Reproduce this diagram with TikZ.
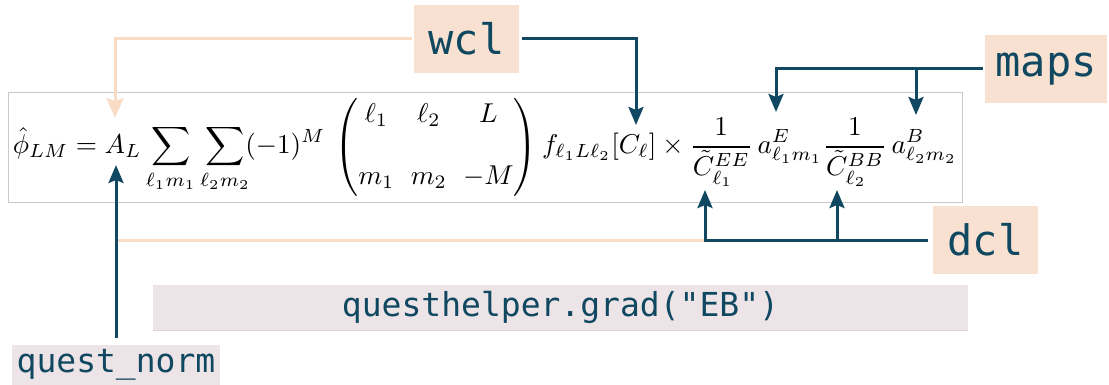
\documentclass[tikz,border=0pt]{standalone}
\usepackage{amsmath}
\usepackage{graphicx}
\usepackage{fontspec}
\setmonofont{DejaVu Sans Mono}
\usetikzlibrary{arrows.meta}
\definecolor{dteal}{HTML}{0F4860}
\definecolor{peach}{HTML}{F8E1D0}
\definecolor{lorange}{HTML}{F9DCC6}
\definecolor{codebg}{HTML}{EDE4E7}
\definecolor{eqgray}{HTML}{C8C8C8}
\begin{document}
\begin{tikzpicture}[x=1pt,y=-1pt,
  dk/.style={draw=dteal, line width=3pt, -{Stealth[length=18pt,width=15pt,inset=3pt]}},
  lt/.style={draw=lorange, line width=3pt},
  ltarr/.style={draw=lorange, line width=3pt, -{Stealth[length=20pt,width=17pt,inset=3pt]}},
  tagbox/.style={fill=peach, text=dteal, font=\ttfamily\fontsize{42}{42}\selectfont, minimum height=68pt, inner sep=0pt},
  codebox/.style={fill=codebg, text=dteal, font=\ttfamily\fontsize{33}{33}\selectfont, inner sep=0pt}]
\useasboundingbox (0,0) rectangle (1109,385);
% equation frame
\node[draw=eqgray, line width=0.8pt, minimum width=954pt, minimum height=110pt, anchor=north west, inner sep=0pt] (eq) at (8,92) {};
\node[inner sep=0pt] (formula) at (485,147) {\resizebox{944pt}{!}{\setlength{\arraycolsep}{3pt}$\displaystyle
  \hat{\phi}_{LM} = A_L \sum_{\ell_1 m_1}\sum_{\ell_2 m_2}\!(-1)^M\,
  \begin{pmatrix}\ell_1 & \ell_2 & L\\[1.1em] m_1 & m_2 & -M\end{pmatrix}
  f_{\ell_1 L \ell_2}[C_\ell]\times\frac{1}{\tilde C^{EE}_{\ell_1}}\,a^{E}_{\ell_1 m_1}\frac{1}{\tilde C^{BB}_{\ell_2}}\,a^{B}_{\ell_2 m_2}$}};
% tags
\node[tagbox, minimum width=105pt] (wcl) at (466.5,39) {wcl};
\node[tagbox, minimum width=122pt] (maps) at (1046,69) {maps};
\node[tagbox, minimum width=105pt] (dcl) at (985.5,240) {dcl};
\node[codebox, minimum width=208pt, minimum height=40pt] (qn) at (116,365) {quest\_norm};
\node[codebox, minimum width=815pt, minimum height=45pt] (qh) at (560.5,307.5) {questhelper.grad("EB")};
\draw[eqgray!70, line width=0.6pt] (qh.south west) -- (qh.south east);
% targets
\coordinate (tALtop) at (115,118);
\coordinate (tALbot) at (116,165);
\coordinate (tCl) at (636,125);
\coordinate (taE) at (776,112);
\coordinate (taB) at (916,115);
\coordinate (tCE) at (705,190);
\coordinate (tCB) at (837,190);
% connectors
\draw[ltarr, shorten <=2pt] (wcl.west) -| (tALtop);
\draw[lt] (tCE |- dcl.west) -- (tALbot |- dcl.west);
\draw[dk, shorten <=3pt] (wcl.east) -| (tCl);
\draw[dk, shorten <=2pt] (maps.west) -| (taE);
\draw[dk] (taB |- maps.west) -- (taB);
\draw[dk, shorten <=5pt] (dcl.west) -| (tCE);
\draw[dk] (tCB |- dcl.west) -- (tCB);
\draw[dk, shorten <=7pt] (qn.north) -- (tALbot);
\end{tikzpicture}
\end{document}
